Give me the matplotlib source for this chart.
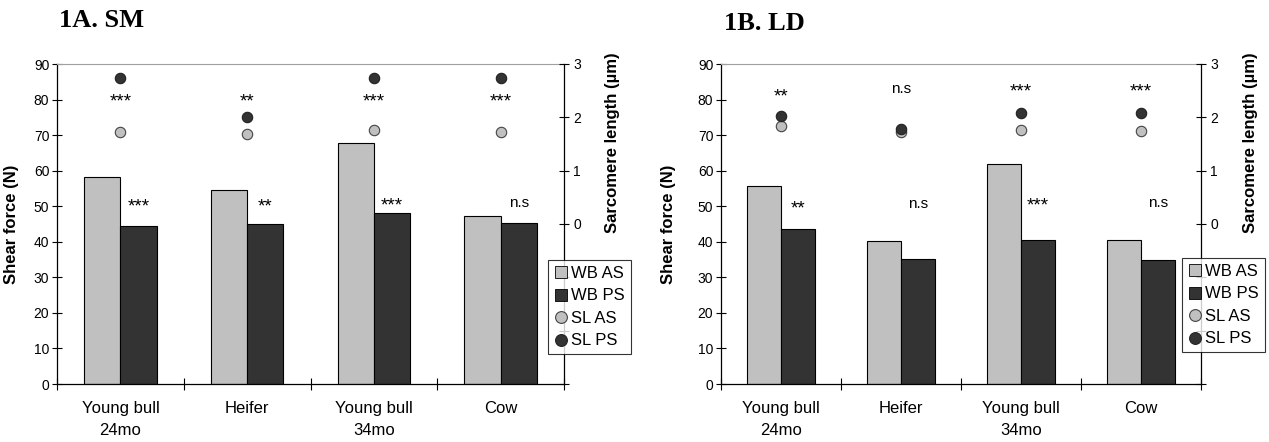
import matplotlib
matplotlib.use("Agg")
import matplotlib.pyplot as plt
import numpy as np
from matplotlib.lines import Line2D

plt.rcParams['font.family'] = ['Liberation Sans', 'DejaVu Sans']

#%% data
categories = ["Young bull\n24mo", "Heifer", "Young bull\n34mo", "Cow"]
series_names = ["WB AS", "WB PS", "SL AS", "SL PS"]

# 1A. SM
sm_wb_as = [58.2, 54.6, 67.8, 47.3]
sm_wb_ps = [44.5, 45.0, 48.0, 45.4]
sm_sl_as = [1.72, 1.69, 1.76, 1.73]
sm_sl_ps = [2.73, 2.00, 2.73, 2.73]
sm_sig_sl = ["***", "**", "***", "***"]
sm_sig_wb = ["***", "**", "***", "n.s"]

# 1B. LD
ld_wb_as = [55.7, 40.3, 62.0, 40.4]
ld_wb_ps = [43.5, 35.2, 40.6, 35.0]
ld_sl_as = [1.83, 1.72, 1.76, 1.74]
ld_sl_ps = [2.03, 1.79, 2.09, 2.09]
ld_sig_sl = ["**", "n.s", "***", "***"]
ld_sig_wb = ["**", "n.s", "***", "n.s"]

light = "#c0c0c0"
dark = "#333333"

#%% figure
fig = plt.figure(figsize=(12.69, 4.42), dpi=100)


def sig_text(ax, x, y, s):
    # asterisks look small in this font, so they get a bigger size
    if "*" in s:
        ax.text(x, y - 0.8, s, ha="center", va="center", fontsize=13.5)
    else:
        ax.text(x, y, s, ha="center", va="center", fontsize=11)


def panel(rect, title, title_xy, wb_as, wb_ps, sl_as, sl_ps, sig_sl, sig_wb,
          sig_sl_y, sig_wb_y, legend_xy, lab_l, lab_r):
    ax = fig.add_axes(rect)
    x = np.arange(len(categories))
    w = 0.286
    ax.bar(x - w / 2, wb_as, w, color=light, edgecolor="black", linewidth=0.8, zorder=2)
    ax.bar(x + w / 2, wb_ps, w, color=dark, edgecolor="black", linewidth=0.8, zorder=2)
    ax.set_xlim(-0.5, len(categories) - 0.5)
    ax.set_ylim(0, 90)
    ax.set_yticks(range(0, 91, 10))
    ax.set_xticks(np.arange(-0.5, len(categories), 1.0))
    ax.set_xticklabels([])
    ax.set_xticks(x, minor=True)
    ax.set_xticklabels(categories, minor=True, fontsize=12, linespacing=1.6)
    ax.tick_params(axis="x", which="major", direction="inout", length=9, width=0.8)
    ax.tick_params(axis="x", which="minor", length=0, pad=12)
    ax.tick_params(axis="y", direction="inout", length=7, width=0.8, labelsize=10, pad=2)
    ax.spines["top"].set_color("#a0a0a0")
    ax.spines["right"].set_visible(False)
    for s in ["left", "bottom"]:
        ax.spines[s].set_linewidth(0.9)
    ax.set_ylabel("Shear force (N)", fontsize=12, fontweight="bold")
    ax.yaxis.set_label_coords(lab_l, 0.5)

    for i in range(len(categories)):
        sig_text(ax, x[i], sig_sl_y[i], sig_sl[i])
        sig_text(ax, x[i] + w / 2, sig_wb_y[i], sig_wb[i])

    ax2 = ax.twinx()
    ax2.set_ylim(-3, 3)
    ax2.set_yticks([-3, -2, -1, 0, 1, 2, 3])
    ax2.set_yticklabels(["", "", "", "0", "1", "2", "3"])
    ax2.tick_params(axis="y", direction="inout", length=7, width=0.8, labelsize=10, pad=3)
    ax2.spines["top"].set_visible(False)
    ax2.spines["left"].set_visible(False)
    ax2.spines["bottom"].set_visible(False)
    ax2.spines["right"].set_linewidth(0.9)
    ax2.plot(x, sl_as, "o", ms=7.5, mfc=light, mec="#444444", mew=0.8, zorder=3)
    ax2.plot(x, sl_ps, "o", ms=7.5, mfc=dark, mec="#222222", mew=0.8, zorder=3)
    ax2.set_ylabel("Sarcomere length (µm)", fontsize=12, fontweight="bold")
    ax2.yaxis.set_label_coords(lab_r, 0.753)

    handles = [
        Line2D([], [], ls="", marker="s", ms=9, mfc=light, mec="black", mew=0.6),
        Line2D([], [], ls="", marker="s", ms=9, mfc=dark, mec="black", mew=0.6),
        Line2D([], [], ls="", marker="o", ms=8.5, mfc=light, mec="#444444", mew=0.8),
        Line2D([], [], ls="", marker="o", ms=8.5, mfc=dark, mec="#222222", mew=0.8),
    ]
    leg = ax2.legend(handles, series_names, loc="upper left",
                     bbox_to_anchor=legend_xy, bbox_transform=fig.transFigure,
                     fontsize=12, frameon=True, fancybox=False, borderpad=0.35,
                     handlelength=0.85, handletextpad=0.2, labelspacing=0.45,
                     borderaxespad=0)
    leg.get_frame().set_edgecolor("black")
    leg.get_frame().set_linewidth(0.8)

    fig.text(title_xy[0], title_xy[1], title, family=["Liberation Serif", "DejaVu Serif"],
             fontweight="bold", fontsize=19, ha="left", va="baseline")
    return ax, ax2


panel([57 / 1269, 58 / 442, 507 / 1269, 320 / 442], "1A. SM", (59 / 1269, 1 - 27 / 442),
      sm_wb_as, sm_wb_ps, sm_sl_as, sm_sl_ps, sm_sig_sl, sm_sig_wb,
      [80, 80, 80, 80], [50.5, 50.5, 51, 51], (548 / 1269, 1 - 260 / 442), -0.075, 1.081)

panel([721 / 1269, 58 / 442, 480 / 1269, 320 / 442], "1B. LD", (724 / 1269, 1 - 30 / 442),
      ld_wb_as, ld_wb_ps, ld_sl_as, ld_sl_ps, ld_sig_sl, ld_sig_wb,
      [81.5, 83, 83, 83], [50, 50.5, 50.8, 50.8], (1182 / 1269, 1 - 258 / 442), -0.094, 1.0875)

fig.savefig("out.png", dpi=100)
